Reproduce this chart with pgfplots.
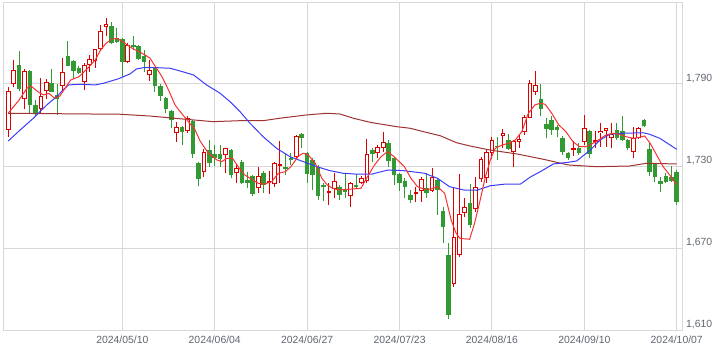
\documentclass[border=0pt]{standalone}
\usepackage{fontspec}
\setmainfont{Liberation Sans}
\usepackage{pgfplots}
\pgfplotsset{compat=1.18}
\usepackage{pgfplotstable}
\definecolor{upred}{RGB}{221,0,0}
\definecolor{dngreen}{RGB}{51,153,51}
\definecolor{maR}{RGB}{245,50,50}
\definecolor{maB}{RGB}{60,60,250}
\definecolor{maBr}{RGB}{160,50,50}
\definecolor{gridc}{RGB}{216,216,216}
\definecolor{lab}{RGB}{95,102,112}

\pgfplotstableread{
i O H L C
0 1756.4 1787.6 1751.1 1784.7
1 1789.8 1807.5 1787.6 1800.0
3 1778.8 1800.7 1771.5 1799.3
6 1772.0 1794.2 1768.6 1781.2
7 1784.7 1793.7 1778.8 1791.5
10 1788.5 1808.8 1785.6 1799.0
14 1791.5 1805.1 1785.6 1803.6
15 1804.1 1811.0 1799.0 1808.5
16 1807.0 1815.6 1801.5 1815.3
17 1815.3 1833.1 1815.0 1828.5
18 1831.8 1838.2 1825.3 1833.6
22 1805.8 1819.8 1805.0 1818.3
26 1796.3 1807.5 1792.4 1800.0
31 1754.0 1762.3 1748.0 1758.6
33 1755.9 1766.6 1754.0 1765.0
36 1725.5 1742.5 1722.3 1740.6
40 1737.9 1743.3 1724.8 1743.1
42 1724.8 1731.6 1717.9 1728.5
46 1713.8 1729.6 1710.6 1722.8
48 1717.5 1726.7 1709.7 1718.9
49 1716.8 1733.0 1715.0 1732.1
50 1730.4 1748.4 1717.5 1731.8
53 1736.9 1752.8 1736.0 1752.0
59 1710.2 1717.5 1701.7 1711.6
60 1713.1 1724.8 1706.5 1719.2
63 1708.2 1718.7 1700.4 1717.5
65 1717.5 1722.8 1717.0 1721.2
66 1719.2 1749.6 1717.5 1738.7
68 1739.4 1745.5 1735.8 1744.2
69 1743.1 1755.2 1740.6 1747.9
75 1709.7 1715.0 1704.1 1711.0
76 1711.9 1722.3 1704.1 1720.8
78 1711.9 1728.4 1711.4 1722.3
82 1643.7 1713.8 1642.0 1678.1
83 1665.1 1724.3 1664.0 1694.9
84 1695.6 1706.5 1693.1 1700.0
86 1698.5 1721.9 1696.5 1715.0
87 1720.6 1736.7 1718.7 1735.0
88 1721.1 1741.8 1717.5 1740.1
89 1739.8 1751.5 1735.5 1749.1
91 1751.8 1757.1 1743.5 1754.2
93 1740.1 1749.1 1729.2 1748.2
94 1747.6 1752.5 1743.0 1749.7
95 1755.2 1767.4 1752.8 1766.1
96 1765.4 1792.9 1764.8 1790.7
97 1784.4 1799.5 1782.0 1789.3
104 1741.8 1748.4 1737.4 1743.2
106 1747.9 1767.4 1745.5 1757.7
108 1748.0 1755.9 1743.0 1749.3
109 1754.2 1761.3 1744.2 1755.7
110 1755.7 1757.9 1744.2 1757.7
111 1750.3 1761.3 1743.0 1753.3
115 1740.6 1758.8 1735.7 1750.3
116 1750.3 1758.8 1749.8 1757.7
}\upT

\pgfplotstableread{
i O H L C
2 1803.9 1814.1 1785.2 1786.1
4 1799.5 1800.2 1768.6 1774.9
5 1774.4 1778.3 1766.6 1769.0
8 1790.7 1800.7 1784.0 1784.4
9 1782.2 1790.0 1767.1 1778.8
11 1810.2 1821.4 1803.0 1803.4
12 1806.8 1807.5 1794.2 1799.7
13 1801.7 1803.1 1797.4 1797.8
19 1832.4 1835.5 1819.2 1819.9
20 1823.4 1830.7 1819.7 1820.7
21 1822.6 1823.6 1795.3 1806.3
23 1818.1 1825.0 1814.8 1817.0
24 1818.0 1818.5 1807.5 1808.0
25 1810.5 1814.8 1799.0 1806.3
27 1801.7 1802.4 1784.5 1788.5
28 1788.5 1790.0 1777.6 1781.2
29 1779.8 1780.5 1768.8 1772.0
30 1770.3 1771.0 1757.7 1763.7
32 1758.6 1759.3 1745.2 1755.2
34 1763.0 1763.7 1736.3 1738.9
35 1732.1 1733.0 1715.5 1720.4
37 1741.8 1749.1 1729.6 1732.1
38 1738.9 1745.5 1730.1 1736.3
39 1738.7 1745.5 1729.6 1735.5
41 1741.8 1742.5 1721.1 1723.6
43 1733.0 1734.5 1717.0 1717.5
44 1719.9 1725.9 1713.8 1717.9
45 1722.8 1723.6 1708.2 1709.7
47 1725.2 1726.5 1710.2 1716.2
51 1729.4 1739.8 1723.6 1727.9
52 1736.2 1739.6 1730.9 1734.7
54 1753.3 1753.9 1743.0 1750.8
55 1739.4 1740.0 1717.9 1724.1
56 1734.5 1736.0 1712.6 1723.6
57 1729.6 1730.9 1705.3 1708.2
58 1716.2 1717.7 1704.8 1715.0
61 1715.0 1716.2 1705.3 1708.6
62 1713.3 1724.3 1706.5 1711.4
64 1716.3 1724.0 1713.0 1714.5
67 1741.8 1743.0 1733.3 1738.7
70 1746.7 1749.1 1729.6 1734.0
71 1735.8 1736.7 1716.2 1723.6
72 1724.1 1725.0 1711.9 1717.9
73 1719.2 1721.1 1707.0 1714.6
74 1708.9 1712.6 1703.3 1705.3
77 1713.8 1724.8 1707.0 1710.6
79 1719.9 1721.4 1694.3 1712.6
80 1697.5 1700.0 1673.7 1685.4
81 1665.1 1674.1 1618.2 1621.3
85 1702.9 1716.8 1684.9 1687.0
90 1744.9 1751.1 1734.5 1743.7
92 1749.1 1753.5 1742.0 1742.3
98 1779.0 1789.8 1766.6 1771.7
99 1760.8 1765.0 1750.3 1757.1
100 1763.7 1766.6 1752.8 1756.4
101 1758.4 1760.1 1751.1 1756.6
102 1750.6 1752.0 1738.2 1740.1
103 1739.4 1740.0 1734.5 1736.2
105 1743.0 1747.1 1738.2 1739.4
107 1755.7 1756.4 1736.0 1738.7
112 1756.4 1761.3 1749.1 1750.3
113 1755.7 1766.6 1748.4 1749.1
114 1749.1 1749.8 1741.8 1743.5
117 1763.7 1764.4 1758.6 1759.3
118 1742.3 1747.9 1722.8 1725.9
119 1731.6 1732.3 1718.2 1721.9
120 1719.2 1722.3 1711.4 1716.8
121 1722.8 1724.8 1717.7 1718.7
122 1722.3 1730.3 1718.4 1719.4
123 1725.9 1727.2 1701.6 1704.0
}\dnT

\pgfplotsset{
  candle/.style n args={2}{draw=none, mark=none, forget plot,
    error bars/.cd, y dir=plus, y explicit, error mark=none,
    error bar style={draw=#1, line width=#2, solid}},
}

\begin{document}
\begin{tikzpicture}
\useasboundingbox (0,0) rectangle (722bp,351bp);
\begin{axis}[
  at={(3.5bp,20.5bp)}, anchor=south west,
  scale only axis, width=678.5bp, height=328bp,
  xmin=-0.865, xmax=123.97, ymin=1610, ymax=1849.5,
  xtick={21,38,55,72,89,106,123},
  xticklabels={2024/05/10,2024/06/04,2024/06/27,2024/07/23,2024/08/16,2024/09/10,2024/10/07},
  ytick={1610,1670,1730,1790},
  yticklabels={{1,610},{1,670},{1,730},{1,790}},
  yticklabel pos=right,
  grid=major,
  major grid style={draw=gridc, line width=1bp},
  axis line style={draw=gridc, line width=1bp},
  major tick length=0pt, tick style={draw=none},
  ticklabel style={font=\fontsize{10.4bp}{12bp}\selectfont, text=lab, inner sep=0pt},
  xticklabel style={anchor=base, yshift=-12.6bp},
  yticklabel style={anchor=base west, xshift=4bp, yshift=2.8bp},
]
% wicks
\addplot[candle={upred}{1bp}] table[x=i, y=L, y error expr=\thisrow{H}-\thisrow{L}] {\upT};
\addplot[candle={dngreen}{1bp}] table[x=i, y=L, y error expr=\thisrow{H}-\thisrow{L}] {\dnT};
% green bodies
\addplot[candle={dngreen}{4.6bp}] table[x=i, y=C, y error expr=\thisrow{O}-\thisrow{C}] {\dnT};
% red hollow bodies
\addplot[candle={upred}{4.6bp}] table[x=i, y=O, y error expr=\thisrow{C}-\thisrow{O}] {\upT};
\addplot[candle={white}{2.6bp}] table[x=i, y expr=\thisrow{O}+0.73, y error expr={max(\thisrow{C}-\thisrow{O}-1.46,0)}] {\upT};
% 75-day
\addplot[maBr, line width=1bp, mark=none] coordinates {
(0,1768.6)(20.6,1767.9)(26.1,1766.6)(32.2,1764.4)(37.7,1762.5)(42.65,1763.2)(46.9,1763.2)(50,1765.0)(54.9,1767.4)(58.6,1768.6)(61,1768.1)(63.5,1765.0)(66.6,1762.0)(71.5,1758.8)(73.9,1757.7)(76.4,1755.2)(79.5,1752.2)(82.5,1747.1)(85,1744.7)(88.6,1741.8)(93.6,1738.9)(98.5,1735.0)(103,1730.9)(108.2,1729.6)(114.3,1730.1)(117.4,1732.1)(123,1731.6)};
% 25-day
\addplot[maB, line width=1bp, mark=none] coordinates {
(0,1748.4)(2.2,1756.4)(4.6,1764.9)(7.1,1774.7)(8.9,1780.7)(10.1,1785.6)(11.1,1789.3)(13.2,1789.8)(16,1789.3)(17.5,1790.5)(20.2,1793.7)(22.4,1797.3)(23.6,1801.0)(24.9,1801.9)(27.3,1801.9)(29.8,1801.5)(31.6,1799.5)(34.1,1796.6)(36.5,1789.3)(39,1783.2)(40.8,1777.1)(42.65,1769.8)(44.5,1761.3)(46.9,1751.5)(49.4,1743.0)(51.85,1736.9)(54.3,1733.3)(56.8,1729.6)(59.2,1726.7)(61.65,1724.8)(64.4,1724.1)(66.8,1724.1)(69.9,1727.2)(72.8,1726.7)(76.6,1724.8)(79,1721.1)(81.2,1715.0)(83.8,1712.6)(86.2,1712.4)(88.7,1715.7)(91.2,1716.8)(94.2,1716.8)(96,1721.9)(97.9,1726.0)(100.3,1731.6)(103,1732.8)(104.6,1733.8)(107.1,1741.8)(108.9,1749.1)(110.7,1753.3)(113.1,1754.0)(116.8,1754.4)(118,1753.3)(119.9,1750.3)(123,1742.3)};
% 5-day
\addplot[maR, line width=1bp, mark=none] coordinates {
(0,1768.6)(2,1778.3)(3.5,1787.1)(4.2,1788.5)(5.5,1784.2)(6.5,1782.0)(7.5,1783.1)(8.5,1779.8)(9.5,1781.2)(10.5,1787.1)(11.5,1792.9)(13,1795.3)(14,1799.0)(15,1803.1)(16,1807.5)(17,1814.8)(18,1819.7)(19,1822.6)(20,1823.4)(21,1820.9)(22.8,1816.1)(25.2,1811.2)(26.1,1808.8)(27.1,1802.6)(28.3,1795.3)(29.5,1785.6)(30.7,1774.7)(31.4,1771.0)(32.9,1763.7)(34.4,1756.4)(35.3,1748.4)(36.8,1739.6)(38.4,1734.5)(39.3,1733.3)(40.2,1735.7)(41.3,1735.7)(42.3,1729.6)(43.5,1723.6)(45,1719.9)(46,1717.5)(47,1716.8)(48.5,1718.7)(49.7,1724.8)(51,1726.0)(52,1729.6)(53.4,1737.4)(54.3,1739.4)(55.2,1738.2)(56.5,1732.1)(57.7,1721.1)(58.7,1716.3)(59.7,1713.8)(60.9,1712.6)(63.1,1713.3)(64.9,1713.8)(66.1,1722.3)(67.4,1730.9)(68.6,1736.9)(69.8,1740.6)(71,1736.9)(72.9,1729.6)(74.1,1721.1)(75.3,1715.0)(76.6,1713.1)(77.8,1713.3)(79,1715.0)(80.3,1710.2)(81.5,1690.7)(82.4,1681.0)(83.1,1677.3)(84.9,1676.6)(85.8,1688.3)(86.7,1702.9)(87.8,1722.3)(88.7,1734.5)(89.6,1743.0)(90.9,1745.5)(92.1,1746.7)(93.3,1749.1)(94.5,1755.2)(95.7,1768.6)(96.9,1774.7)(97.9,1775.9)(98.8,1775.2)(100,1768.6)(101.3,1760.1)(102.6,1755.2)(103.9,1747.9)(105.1,1744.2)(106.4,1744.2)(107.6,1746.7)(108.8,1749.6)(110,1752.8)(111.3,1754.0)(112.5,1753.3)(113.7,1751.5)(115,1750.3)(116.2,1751.1)(117.1,1752.0)(118.1,1746.7)(119.3,1738.2)(120.5,1729.6)(121.7,1723.6)(123,1716.3)};
\end{axis}
\end{tikzpicture}
\end{document}
